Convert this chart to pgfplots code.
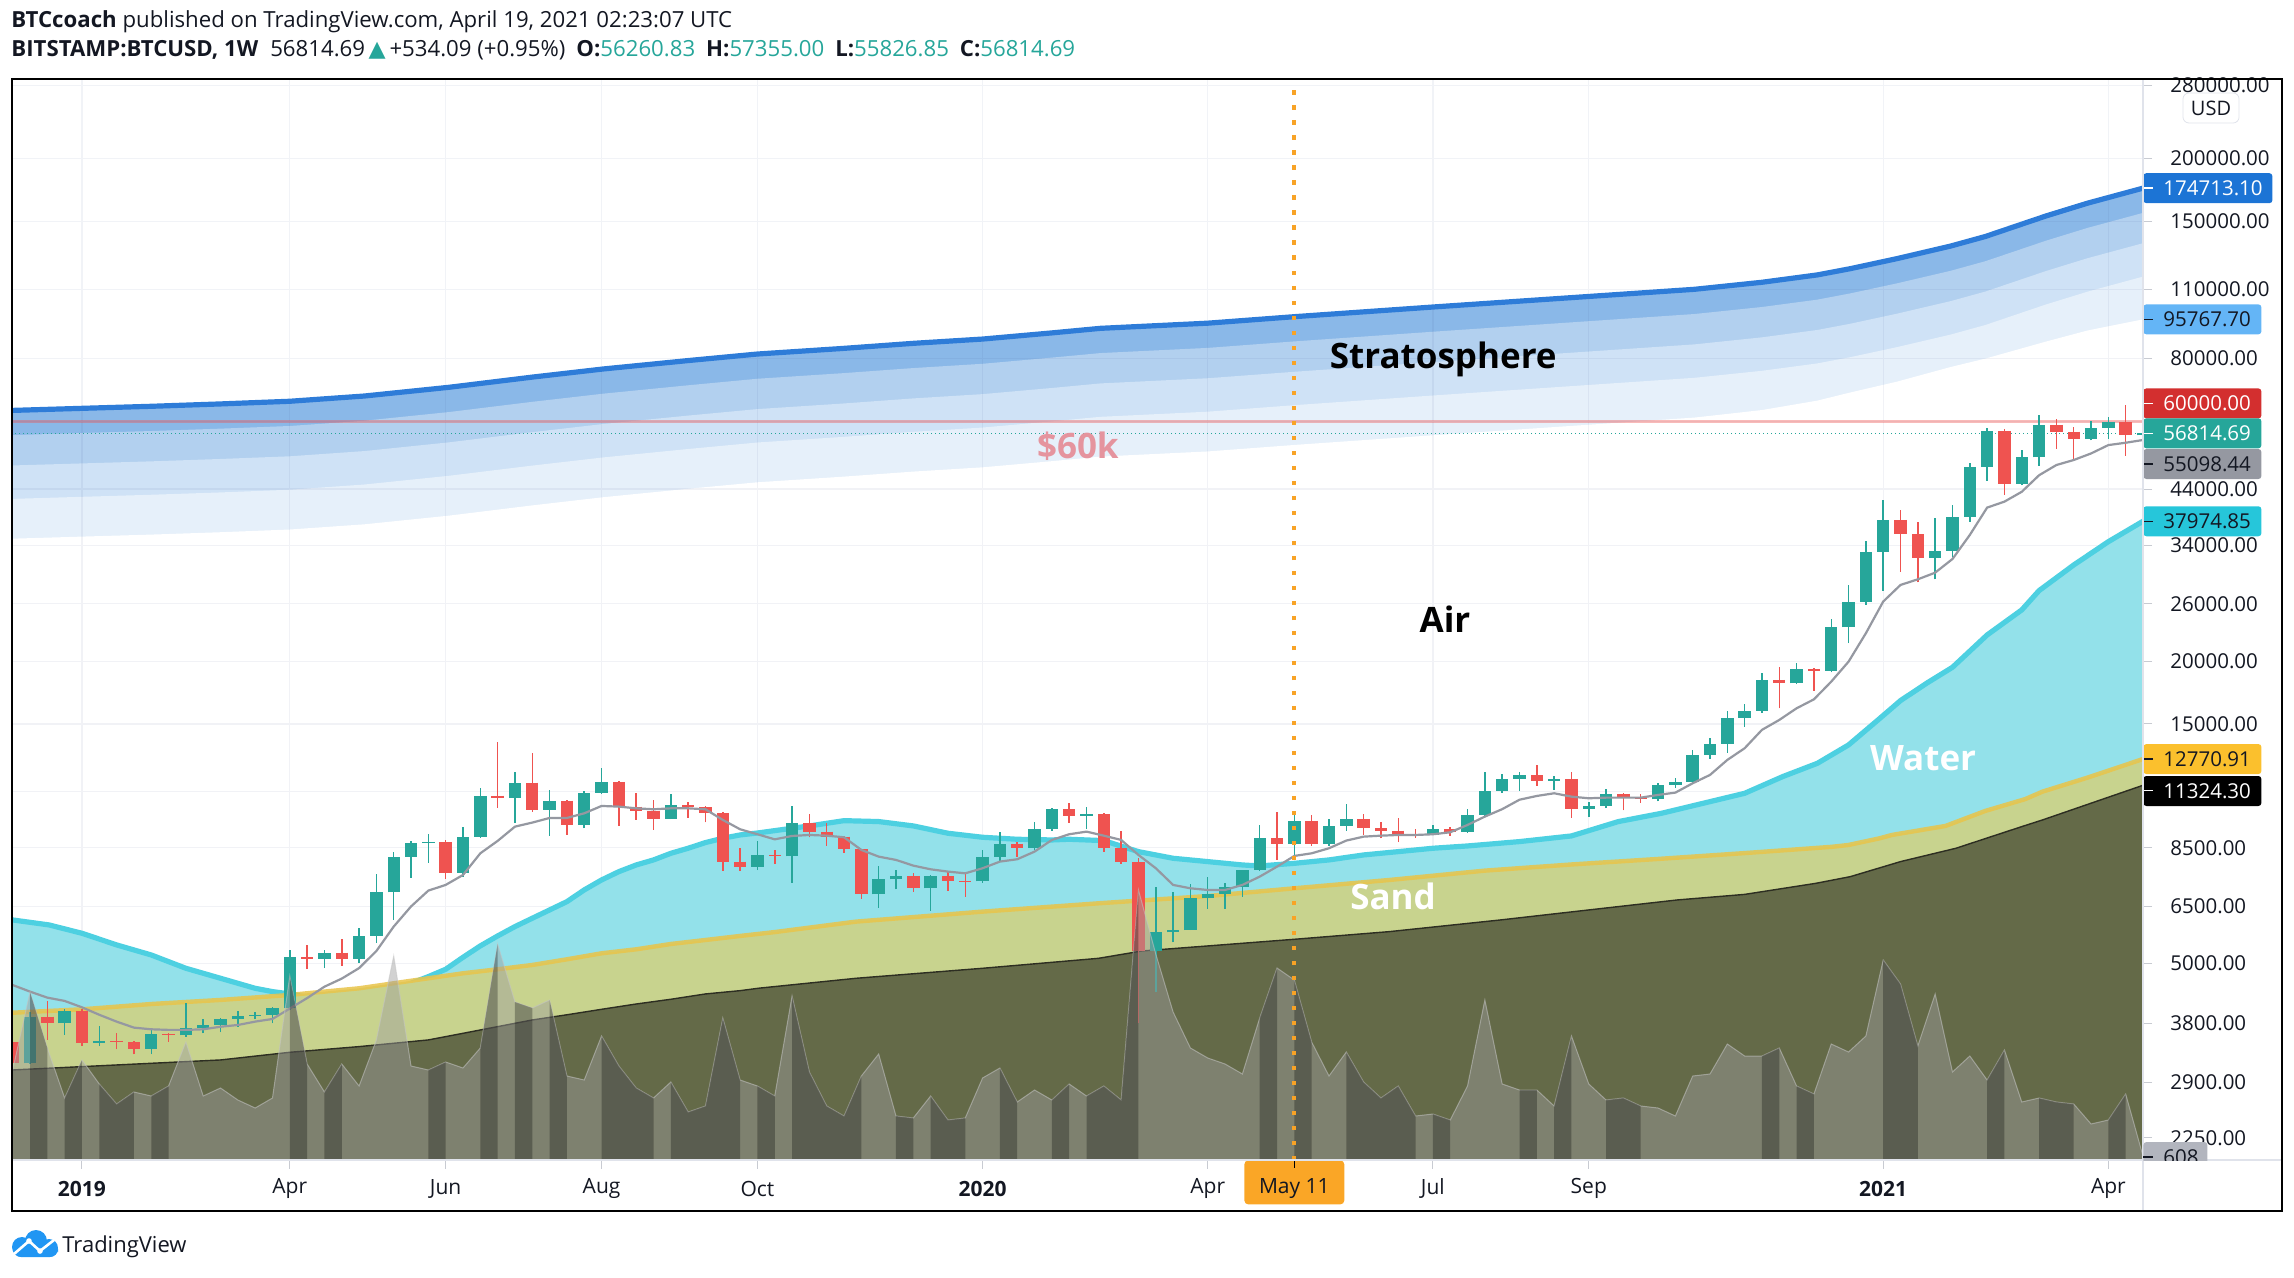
\documentclass[border=0pt]{standalone}
\usepackage{pgfplots}
\usepackage{pgfplotstable}
\pgfplotsset{compat=1.18}
\usepackage{fontspec}
\setmainfont{Open Sans}
\newfontfamily\dejavu{DejaVu Sans}
\definecolor{tvtext}{RGB}{19,23,34}
\definecolor{tvteal}{RGB}{38,166,154}
\definecolor{tvred}{RGB}{239,83,80}
\definecolor{gridc}{RGB}{60,80,140}
\definecolor{tickc}{RGB}{200,203,210}
\definecolor{sepc}{RGB}{224,227,235}
\definecolor{bandA}{RGB}{138,184,232}
\definecolor{bandB}{RGB}{178,208,239}
\definecolor{bandC}{RGB}{207,226,246}
\definecolor{bandD}{RGB}{230,240,250}
\definecolor{blueline}{RGB}{46,124,216}
\definecolor{waterc}{RGB}{147,225,234}
\definecolor{waterl}{RGB}{77,208,225}
\definecolor{sandc}{RGB}{200,211,142}
\definecolor{sandl}{RGB}{232,196,74}
\definecolor{olivec}{RGB}{100,106,72}
\definecolor{olivel}{RGB}{45,46,34}
\definecolor{mac}{RGB}{149,152,161}
\definecolor{volc}{RGB}{158,158,158}
\definecolor{tvorange}{RGB}{248,163,38}
\definecolor{lab60}{RGB}{229,148,158}
\definecolor{lbBlue}{RGB}{28,116,213}
\definecolor{lbLight}{RGB}{100,181,246}
\definecolor{lbRed}{RGB}{211,47,47}
\definecolor{lbGray}{RGB}{149,152,161}
\definecolor{lbCyan}{RGB}{38,198,218}
\definecolor{lbYellow}{RGB}{251,192,45}
\definecolor{lbVol}{RGB}{178,181,190}
\definecolor{tvblue}{RGB}{33,150,243}
\definecolor{mayc}{RGB}{250,166,38}
\newcommand{\plabtxt}[3]{\hbox to #1{\color{#2}\rule[3.4pt]{5pt}{0.6pt}\hspace{5pt}#3\hfil}}
\tikzset{plab/.style={anchor=west, inner sep=0pt, minimum height=15pt, rounded corners=1.5pt, font=\fontsize{10.25}{12}\selectfont}}

% stratosphere band boundaries (week index, price)
\pgfplotstableread{
w s0 s1 s2 s3 s4
-5 62900 56160 48870 41930 34940
-4 63100 56340 49030 42070 35060
0 63700 56880 49490 42470 35390
4 64300 57410 49960 42870 35720
8 65000 58040 50510 43330 36110
12 65800 58750 51130 43870 36560
16.3 67400 60180 52370 44930 37440
21.2 70150 62630 54510 46770 38970
26 73500 65630 57110 49000 40830
30.1 76300 68130 59290 50870 42390
35 79300 70800 61620 52870 44060
39 81700 72950 63480 54470 45390
43.9 83800 74820 65110 55870 46560
48 85800 76610 66670 57200 47670
52 87500 78130 67990 58330 48610
56 90000 80360 69930 60000 50000
58.8 91900 82050 71410 61270 51060
65 94100 84020 73120 62730 52280
70.1 97000 86610 75370 64670 53890
78.3 101500 90630 78870 67670 56390
86.9 106300 94910 82600 70870 59060
93.1 109900 98130 85390 73270 61060
97 113500 101340 88190 75670 63200
100.2 117400 104820 91220 78270 66000
102.1 120800 107860 93860 80530 68500
104.8 126500 112950 98290 84330 72000
107.9 134000 119640 104120 89330 77000
109.9 140000 125000 108780 93330 80000
113.4 153800 137320 119500 102530 86500
115.8 163100 145630 126730 108730 91000
119 174713.10 155990 135750 116480 95767.70
120 178500 159380 138700 119000 97500
}\strat

\pgfplotstableread{
w p
-5 6200
-4 6110
-1.9 5972
0 5748
2 5450
4 5204
6 4896
8 4677
10 4467
11 4400
12 4353
13 4287
14 4235
15 4183
16 4183
17 4235
18 4353
19 4571
20 4713
21 4874
22 5149
23 5425
24 5678
25 5927
26 6158
27 6397
28 6645
29 7011
30 7339
31 7625
32 7861
33 8044
34 8292
35 8486
36 8710
37 8883
38 9020
39 9100
40 9200
42 9400
44 9630
46 9590
48 9400
50 9090
52 8924
54 8843
56 8815
57 8843
59 8788
61 8356
63 8105
65 7983
67 7861
68 7826
70 7921
72 8044
74 8230
76 8356
78 8486
80 8576
83 8749
86 8979
88.7 9588
91.2 9961
94 10507
96 10916
98.2 11785
100.2 12525
102 13625
103.7 15277
105 16694
106.5 18072
108 19449
110 22551
112 25294
113 27634
115 31078
117 34580
119 37974.85
120 39700
}\water

\pgfplotstableread{
w p
-5 3980
-4 3995
0 4057
4 4157
8 4235
12 4333
14 4400
16 4467
18 4571
20 4677
22 4785
24 4874
26 4971
28 5102
30 5244
32 5341
34 5473
36 5574
38 5678
40 5780
44.7 6064
52 6348
58.7 6595
65 6818
70 7064
75.5 7339
81 7660
86 7880
91 8080
96 8300
101 8540
102 8615
103.8 8883
104.5 9019
107.6 9400
109.9 10070
112.2 10630
113.2 11001
115.8 11730
119 12770.91
120 13100
}\sand

\pgfplotstableread{
w p
-5 3060
-4 3073
0 3120
4 3168
8 3217
12 3332
16 3420
20 3526
22 3635
24 3748
26 3864
28 3957
30 4057
32 4157
34 4248
36 4353
38 4419
39.1 4470
44.7 4677
52 4896
58.7 5125
61.2 5300
70 5592
75.5 5792
81.9 6110
87 6397
92.1 6696
96 6869
100.1 7226
102.1 7451
105 7983
108.2 8486
112 9371
113.2 9662
119 11324.30
120 11600
}\olive

\pgfplotstableread{
w p
-4.04 4540
-3 4400
-2 4280
-1 4216
0 4094
1 3957
2 3835
3 3731
4 3702
5 3692
6 3692
7 3702
8 3746
9 3776
10 3835
11 3882
12 4071
13 4271
14 4500
15 4670
16 4900
17 5300
18 5928
19 6500
20 6990
21 7174
22 7510
23 8292
24 8776
25 9370
26 9545
27 9750
28 9750
29 9960
30 10301
31 10270
32 10190
33 10145
34 10190
35 10190
36 10145
37 9662
38 9257
39 9048
40 8840
41 8978
42 9019
43 8990
44 8924
45 8421
46 8167
47 8044
48 7838
49 7707
50 7626
51 7567
52 7745
53 7983
54 8069
55 8356
56 8815
57 9048
58 9158
59 8990
60 8815
61 8230
62 7745
63 7174
64 7064
65 7010
66 7010
67 7174
68 7451
69 7802
70 8193
71 8292
72 8486
73 8790
74 8950
75 8990
76 9019
77 9019
78 9048
79 9130
80 9443
81 9811
82 10150
83 10600
84 10784
85 10918
86 10750
87 10670
88 10701
89 10701
90 10701
91 10835
92 10950
93 11430
94 11875
95 12720
96 13420
97 14600
98 15280
99 16115
100 16790
101 18210
102 19960
103 22730
104 26280
105 28360
106 29100
107 30000
108 31940
109 35660
110 40420
111 41540
112 43460
113 46880
114 49130
115 50270
116 51800
117 53830
118 54410
119 55098.44
}\maline

\pgfplotstableread{
w v
-5 45
-4 45
-3 84
-2 56
-1 31
0 50
1 38
2 28
3 34
4 32
5 37
6 59
7 32
8 36
9 30
10 26
11 31
12 92
13 48
14 34
15 48
16 37
17 60
18 102
19 47
20 45
21 49
22 46
23 56
24 108
25 79
26 76
27 80
28 42
29 40
30 62
31 47
32 36
33 31
34 39
35 24
36 27
37 71
38 40
39 37
40 32
41 82
42 44
43 27
44 22
45 42
46 53
47 22
48 21
49 32
50 20
51 21
52 41
53 46
54 29
55 35
56 30
57 38
58 32
59 37
60 30
61 135
62 103
63 74
64 56
65 51
66 48
67 43
68 71
69 96
70 90
71 59
72 42
73 54
74 39
75 31
76 37
77 22
78 23
79 20
80 37
81 80
82 38
83 35
84 35
85 27
86 62
87 38
88 30
89 31
90 27
91 26
92 22
93 42
94 43
95 58
96 52
97 52
98 56
99 37
100 33
101 58
102 54
103 62
104 100
105 88
106 57
107 83
108 44
109 52
110 40
111 55
112 29
113 31
114 29
115 28
116 18
117 20
118 33
119 2
}\vol

\begin{document}
\begin{tikzpicture}

\begin{axis}[
  at={(6pt,-580pt)}, anchor=south west,
  scale only axis, width=1065.5pt, height=540.5pt,
  xmin=-4.04, xmax=119, ymode=log, ymin=2034, ymax=288100,
  axis line style={draw=none},
  unbounded coords=jump,
  xtick={0,12,21,30,39,52,65,78,87,104,117},
  xticklabels={\textbf{2019},Apr,Jun,Aug,Oct,\textbf{2020},Apr,Jul,Sep,\textbf{2021},Apr},
  ytick={2250,2900,3800,5000,6500,8500,11000,15000,20000,26000,34000,44000,60000,80000,110000,150000,200000,280000},
  yticklabels={2250.00,2900.00,3800.00,5000.00,6500.00,8500.00,,15000.00,20000.00,26000.00,34000.00,44000.00,,80000.00,110000.00,150000.00,200000.00,280000.00},
  xtick pos=lower, ytick pos=upper, yticklabel pos=upper,
  tick align=outside, major tick length=4.5pt,
  tick style={draw=tickc, line width=0.5pt},
  minor y tick num=0, yminorticks=false, xminorticks=false,
  xticklabel style={font=\fontsize{10.5}{12}\selectfont, text=tvtext, anchor=center, yshift=-9.9pt},
  yticklabel style={font=\fontsize{10.25}{12}\selectfont, text=tvtext, anchor=west, inner sep=0pt, xshift=9pt},
]
% ---- stratosphere bands (stacked, each filled down to the bottom)
\addplot[fill=bandA, draw=none] table[x=w,y=s0]{\strat} \closedcycle;
\addplot[fill=bandB, draw=none] table[x=w,y=s1]{\strat} \closedcycle;
\addplot[fill=bandC, draw=none] table[x=w,y=s2]{\strat} \closedcycle;
\addplot[fill=bandD, draw=none] table[x=w,y=s3]{\strat} \closedcycle;
\addplot[fill=white, draw=none] table[x=w,y=s4]{\strat} \closedcycle;
% ---- grid
\addplot[draw=gridc, draw opacity=0.07, line width=0.6pt] coordinates {
(-5,2250)(120,2250)(120,nan) (-5,2900)(120,2900)(120,nan) (-5,3800)(120,3800)(120,nan)
(-5,5000)(120,5000)(120,nan) (-5,6500)(120,6500)(120,nan) (-5,8500)(120,8500)(120,nan)
(-5,11000)(120,11000)(120,nan) (-5,15000)(120,15000)(120,nan) (-5,20000)(120,20000)(120,nan)
(-5,26000)(120,26000)(120,nan) (-5,34000)(120,34000)(120,nan) (-5,44000)(120,44000)(120,nan)
(-5,60000)(120,60000)(120,nan) (-5,80000)(120,80000)(120,nan) (-5,110000)(120,110000)(120,nan)
(-5,150000)(120,150000)(120,nan) (-5,200000)(120,200000)(120,nan) (-5,280000)(120,280000)(120,nan)
(0,1500)(0,300000)(0,nan) (12,1500)(12,300000)(12,nan) (21,1500)(21,300000)(21,nan)
(30,1500)(30,300000)(30,nan) (39,1500)(39,300000)(39,nan) (52,1500)(52,300000)(52,nan)
(65,1500)(65,300000)(65,nan) (78,1500)(78,300000)(78,nan) (87,1500)(87,300000)(87,nan)
(104,1500)(104,300000)(104,nan) (117,1500)(117,300000)
};
\addplot[draw=blueline, line width=2.6pt] table[x=w,y=s0]{\strat};
% ---- water / sand / olive
\addplot[fill=waterc, draw=none] table[x=w,y=p]{\water} \closedcycle;
\addplot[draw=waterl, line width=2.6pt] table[x=w,y=p]{\water};
\addplot[fill=sandc, draw=none] table[x=w,y=p]{\sand} \closedcycle;
\addplot[fill=olivec, draw=none] table[x=w,y=p]{\olive} \closedcycle;
\addplot[draw=sandl, draw opacity=0.85, line width=2.2pt] table[x=w,y=p]{\sand};
\addplot[draw=olivel, line width=0.7pt] table[x=w,y=p]{\olive};
% ---- reference lines
\addplot[draw=tvred, draw opacity=0.4, line width=1.25pt] coordinates {(-5,60000) (120,60000)};
\addplot[draw=tvteal, line width=0.5pt, dash pattern=on 0.5pt off 1.5pt] coordinates {(-5,56814.69) (120,56814.69)};
% ---- candles: wicks
\addplot[draw=tvteal, line width=0.75pt] coordinates {
(-3,3160)(-3,4000)(-3,nan) (-1,3607)(-1,4056)(-1,nan) (1,3428)(1,3759)(1,nan) (4,3302)(4,3692)(4,nan)
(6,3580)(6,4171)(6,nan) (7,3635)(7,3876)(7,nan) (8,3650)(8,3900)(8,nan) (9,3750)(9,4026)(9,nan)
(10,3880)(10,4000)(10,nan) (11,3806)(11,4100)(11,nan) (12,4050)(12,5325)(12,nan) (14,4900)(14,5330)(14,nan)
(16,5024)(16,5890)(16,nan) (17,5508)(17,7543)(17,nan) (18,6110)(18,8342)(18,nan) (19,7417)(19,8790)(19,nan)
(20,7944)(20,9064)(20,nan) (22,7451)(22,9341)(22,nan) (23,8900)(23,11172)(23,nan) (25,9545)(25,12036)(25,nan)
(27,8978)(27,11085)(27,nan) (29,9300)(29,11030)(29,nan) (30,10900)(30,12240)(30,nan) (34,9700)(34,10900)(34,nan)
(39,7680)(39,8776)(39,nan) (41,7249)(41,10301)(41,nan) (46,6466)(46,7826)(46,nan) (47,7032)(47,7700)(47,nan)
(49,6377)(49,7520)(49,nan) (52,7250)(52,8421)(52,nan) (53,7983)(53,9130)(53,nan) (55,8400)(55,9550)(55,nan)
(56,9200)(56,10200)(56,nan) (58,9272)(58,10270)(58,nan) (62,4400)(62,7117)(62,nan) (63,5516)(63,6935)(63,nan)
(64,5830)(64,7206)(64,nan) (65,6426)(65,7451)(65,nan) (66,6426)(66,7250)(66,nan) (67,6800)(67,7700)(67,nan)
(68,7650)(68,9429)(68,nan) (70,8200)(70,9900)(70,nan) (72,8576)(72,9700)(72,nan) (73,9200)(73,10398)(73,nan)
(78,9000)(78,9450)(78,nan) (80,9100)(80,10160)(80,nan) (81,9800)(81,12055)(81,nan) (82,10950)(82,11900)(82,nan)
(83,11035)(83,12036)(83,nan) (85,11100)(85,11800)(85,nan) (87,9800)(87,10500)(87,nan) (88,10200)(88,11135)(88,nan)
(91,10520)(91,11450)(91,nan) (92,11200)(92,11700)(92,nan) (93,11420)(93,13314)(93,nan) (94,12800)(94,14048)(94,nan)
(95,13152)(95,15920)(95,nan) (96,14800)(96,16440)(96,nan) (97,15800)(97,18920)(97,nan) (99,18000)(99,19810)(99,nan)
(101,19000)(101,24310)(101,nan) (102,21715)(102,28360)(102,nan) (103,25900)(103,34700)(103,nan) (104,27630)(104,41860)(104,nan)
(107,29100)(107,38600)(107,nan) (108,32300)(108,40920)(108,nan) (109,37900)(109,49610)(109,nan) (110,45750)(110,58320)(110,nan)
(112,44800)(112,52640)(112,nan) (113,49000)(113,61800)(113,nan) (116,55000)(116,60040)(116,nan) (117,55400)(117,61330)(117,nan)
(119,55826.85)(119,57355)
};
\addplot[draw=tvred, line width=0.75pt] coordinates {
(-4,3150)(-4,3600)(-4,nan) (-2,3526)(-2,4216)(-2,nan) (0,3428)(0,4056)(0,nan) (2,3378)(2,3635)(2,nan)
(3,3302)(3,3510)(3,nan) (5,3499)(5,3640)(5,nan) (13,4880)(13,5440)(13,nan) (15,4950)(15,5600)(15,nan)
(21,7384)(21,8800)(21,nan) (24,10222)(24,13830)(24,nan) (26,10038)(26,13152)(26,nan) (28,9019)(28,10600)(28,nan)
(31,9400)(31,11550)(31,nan) (32,9662)(32,10950)(32,nan) (33,9228)(33,10588)(33,nan) (35,9750)(35,10500)(35,nan)
(36,9550)(36,10300)(36,nan) (37,7660)(37,10000)(37,nan) (38,7660)(38,8486)(38,nan) (40,7900)(40,8400)(40,nan)
(42,8924)(42,9915)(42,nan) (43,8576)(43,9515)(43,nan) (44,8318)(44,8980)(44,nan) (45,6727)(45,8460)(45,nan)
(48,6957)(48,7589)(48,nan) (50,6989)(50,7649)(50,nan) (51,6799)(51,7550)(51,nan) (54,8167)(54,8730)(54,nan)
(57,9545)(57,10460)(57,nan) (59,8356)(59,9991)(59,nan) (60,7900)(60,9186)(60,nan) (61,3817)(61,8100)(61,nan)
(69,8044)(69,10022)(69,nan) (71,8576)(71,9870)(71,nan) (74,9019)(74,9950)(74,nan) (75,8880)(75,9550)(75,nan)
(76,8730)(76,9730)(76,nan) (77,8900)(77,9250)(77,nan) (79,8978)(79,9350)(79,nan) (84,11291)(84,12431)(84,nan)
(86,9765)(86,12036)(86,nan) (89,10100)(89,10950)(89,nan) (90,10450)(90,10900)(90,nan) (98,16115)(98,19510)(98,nan)
(100,17475)(100,19400)(100,nan) (105,30150)(105,39990)(105,nan) (106,28700)(106,37800)(106,nan) (111,42830)(111,58000)(111,nan)
(114,52900)(114,60690)(114,nan) (115,50130)(115,58500)(115,nan) (118,51220)(118,64700)
};
% ---- candles: bodies
\addplot[draw=tvteal, line width=6.2pt] coordinates {
(-3,3168)(-3,3923)(-3,nan) (-1,3806)(-1,4026)(-1,nan) (1,3483)(1,3509)(1,nan) (4,3383)(4,3624)(4,nan)
(6,3602)(6,3720)(6,nan) (7,3720)(7,3776)(7,nan) (8,3776)(8,3882)(8,nan) (9,3882)(9,3936)(9,nan)
(10,3936)(10,3957)(10,nan) (11,3957)(11,4076)(11,nan) (12,4076)(12,5150)(12,nan) (14,5120)(14,5260)(14,nan)
(16,5117)(16,5678)(16,nan) (17,5678)(17,6935)(17,nan) (18,6935)(18,8153)(18,nan) (19,8153)(19,8697)(19,nan)
(20,8697)(20,8740)(20,nan) (22,7589)(22,8950)(22,nan) (23,8950)(23,10784)(23,nan) (25,10700)(25,11466)(25,nan)
(27,10114)(27,10556)(27,nan) (29,9457)(29,10950)(29,nan) (30,10950)(30,11501)(30,nan) (34,9720)(34,10332)(34,nan)
(39,7802)(39,8230)(39,nan) (41,8180)(41,9515)(41,nan) (46,6872)(46,7363)(46,nan) (47,7363)(47,7475)(47,nan)
(49,7064)(49,7475)(49,nan) (52,7290)(52,8167)(52,nan) (53,8167)(53,8657)(53,nan) (55,8499)(55,9272)(55,nan)
(56,9272)(56,10145)(56,nan) (58,9840)(58,9915)(58,nan) (62,5309)(62,5774)(62,nan) (63,5774)(63,5834)(63,nan)
(64,5834)(64,6748)(64,nan) (65,6748)(65,6883)(65,nan) (66,6883)(66,7097)(66,nan) (67,7097)(67,7684)(67,nan)
(68,7684)(68,8883)(68,nan) (70,8670)(70,9617)(70,nan) (72,8670)(72,9400)(72,nan) (73,9400)(73,9705)(73,nan)
(78,9019)(78,9272)(78,nan) (80,9158)(80,9885)(80,nan) (81,9885)(81,11035)(81,nan) (82,11035)(82,11660)(82,nan)
(83,11660)(83,11857)(83,nan) (85,11553)(85,11660)(85,nan) (87,10160)(87,10301)(87,nan) (88,10301)(88,10882)(88,nan)
(91,10620)(91,11342)(91,nan) (92,11342)(92,11500)(92,nan) (93,11500)(93,13012)(93,nan) (94,13012)(94,13688)(94,nan)
(95,13688)(95,15418)(95,nan) (96,15418)(96,15920)(96,nan) (97,15920)(97,18350)(97,nan) (99,18070)(99,19300)(99,nan)
(101,19150)(101,23360)(101,nan) (102,23360)(102,26240)(102,nan) (103,26240)(103,33000)(103,nan) (104,33000)(104,38200)(104,nan)
(107,32150)(107,33140)(107,nan) (108,33140)(108,38790)(108,nan) (109,38790)(109,48630)(109,nan) (110,48630)(110,57430)(110,nan)
(112,45060)(112,50900)(112,nan) (113,50900)(113,59040)(113,nan) (116,55380)(116,58230)(116,nan) (117,58230)(117,59760)(117,nan)
(119,56260.83)(119,56814.69)
};
\addplot[draw=tvred, line width=6.2pt] coordinates {
(-4,3500)(-4,3170)(-4,nan) (-2,3923)(-2,3806)(-2,nan) (0,4026)(0,3483)(0,nan) (2,3509)(2,3493)(2,nan)
(3,3493)(3,3383)(3,nan) (5,3624)(5,3602)(5,nan) (13,5150)(13,5120)(13,nan) (15,5260)(15,5117)(15,nan)
(21,8730)(21,7589)(21,nan) (24,10800)(24,10700)(24,nan) (26,11466)(26,10114)(26,nan) (28,10556)(28,9457)(28,nan)
(31,11501)(31,10270)(31,nan) (32,10270)(32,10083)(32,nan) (33,10083)(33,9720)(33,nan) (35,10332)(35,10250)(35,nan)
(36,10250)(36,9960)(36,nan) (37,9960)(37,7983)(37,nan) (38,7983)(38,7802)(38,nan) (40,8230)(40,8180)(40,nan)
(42,9515)(42,9158)(42,nan) (43,9158)(43,8950)(43,nan) (44,8950)(44,8446)(44,nan) (45,8446)(45,6872)(45,nan)
(48,7475)(48,7064)(48,nan) (50,7475)(50,7318)(50,nan) (51,7318)(51,7290)(51,nan) (54,8657)(54,8499)(54,nan)
(57,10145)(57,9840)(57,nan) (59,9915)(59,8486)(59,nan) (60,8486)(60,7983)(60,nan) (61,7983)(61,5309)(61,nan)
(69,8883)(69,8670)(69,nan) (71,9617)(71,8670)(71,nan) (74,9705)(74,9300)(74,nan) (75,9300)(75,9200)(75,nan)
(76,9200)(76,9019)(76,nan) (77,9060)(77,9019)(77,nan) (79,9272)(79,9158)(79,nan) (84,11857)(84,11553)(84,nan)
(86,11660)(86,10160)(86,nan) (89,10882)(89,10701)(89,nan) (90,10701)(90,10620)(90,nan) (98,18350)(98,18070)(98,nan)
(100,19300)(100,19150)(100,nan) (105,38200)(105,35770)(105,nan) (106,35770)(106,32150)(106,nan) (111,57430)(111,45060)(111,nan)
(114,59040)(114,57260)(114,nan) (115,57260)(115,55380)(115,nan) (118,59760)(118,56260.83)
};
% ---- moving average
\addplot[draw=mac, line width=1.1pt] table[x=w,y=p]{\maline};
% ---- zone labels
\node[font=\fontsize{17.5}{20}\selectfont\bfseries, text=black] at (axis cs:78.6,79540) {Stratosphere};
\node[font=\fontsize{17.5}{20}\selectfont\bfseries, text=black] at (axis cs:78.7,24270) {Air};
\node[font=\fontsize{17.5}{20}\selectfont\bfseries, text=white] at (axis cs:106.3,12836) {Water};
\node[font=\fontsize{17.5}{20}\selectfont\bfseries, text=white] at (axis cs:75.7,6818) {Sand};
\node[font=\fontsize{17.5}{20}\selectfont\bfseries, text=lab60] at (axis cs:57.5,53630) {\$60k};
% ---- anchors for the price-scale labels and the time marker
\coordinate (pA) at (axis cs:119,174713.10);
\coordinate (pB) at (axis cs:119,95767.70);
\coordinate (pC) at (axis cs:119,60000);
\coordinate (pD) at (axis cs:119,56814.69);
\coordinate (pE) at (axis cs:119,55098.44);
\coordinate (pF) at (axis cs:119,37974.85);
\coordinate (pG) at (axis cs:119,12770.91);
\coordinate (pH) at (axis cs:119,11324.30);
\coordinate (mE) at (axis cs:70,2034);
\end{axis}

% ---- volume pane (same frame, own scale)
\begin{axis}[
  at={(6pt,-580pt)}, anchor=south west,
  scale only axis, width=1065.5pt, height=540.5pt,
  xmin=-4.04, xmax=119, ymin=0, ymax=540.5,
  hide axis, unbounded coords=jump,
]
\addplot[fill=volc, fill opacity=0.46, draw=none] table[x=w,y=v]{\vol} \closedcycle;
\addplot[draw=volc!60!white, draw opacity=0.55, line width=0.5pt] table[x=w,y=v]{\vol};
\addplot[fill=black, fill opacity=0.28, draw=none] coordinates {
(-5,0)(-5,45)(-4,45)(-4,0)(-4,nan)
(-3,0)(-3,84)(-2,56)(-2,0)(-2,nan)
(-1,0)(-1,31)(0,50)(0,0)(0,nan)
(1,0)(1,38)(2,28)(3,34)(3,0)(3,nan)
(4,0)(4,32)(5,37)(5,0)(5,nan)
(12,0)(12,92)(13,48)(13,0)(13,nan)
(14,0)(14,34)(15,48)(15,0)(15,nan)
(20,0)(20,45)(21,49)(21,0)(21,nan)
(23,0)(23,56)(24,108)(24,0)(24,nan)
(25,0)(25,79)(26,76)(26,0)(26,nan)
(27,0)(27,80)(28,42)(28,0)(28,nan)
(30,0)(30,62)(31,47)(32,36)(33,31)(33,0)(33,nan)
(34,0)(34,39)(35,24)(36,27)(37,71)(38,40)(38,0)(38,nan)
(39,0)(39,37)(40,32)(40,0)(40,nan)
(41,0)(41,82)(42,44)(43,27)(44,22)(45,42)(45,0)(45,nan)
(47,0)(47,22)(48,21)(48,0)(48,nan)
(49,0)(49,32)(50,20)(51,21)(51,0)(51,nan)
(53,0)(53,46)(54,29)(54,0)(54,nan)
(56,0)(56,30)(57,38)(57,0)(57,nan)
(58,0)(58,32)(59,37)(60,30)(61,135)(61,0)(61,nan)
(68,0)(68,71)(69,96)(69,0)(69,nan)
(70,0)(70,90)(71,59)(71,0)(71,nan)
(73,0)(73,54)(74,39)(75,31)(76,37)(77,22)(77,0)(77,nan)
(78,0)(78,23)(79,20)(79,0)(79,nan)
(83,0)(83,35)(84,35)(84,0)(84,nan)
(85,0)(85,27)(86,62)(86,0)(86,nan)
(88,0)(88,30)(89,31)(90,27)(90,0)(90,nan)
(97,0)(97,52)(98,56)(98,0)(98,nan)
(99,0)(99,37)(100,33)(100,0)(100,nan)
(104,0)(104,100)(105,88)(106,57)(106,0)(106,nan)
(110,0)(110,40)(111,55)(111,0)(111,nan)
(113,0)(113,31)(114,29)(115,28)(115,0)(115,nan)
(117,0)(117,20)(118,33)(118,0)
};
\addplot[draw=tvorange, line width=2pt, dash pattern=on 2.25pt off 5.25pt] coordinates {(70,0) (70,540.5)};
\end{axis}

% ---- price-scale labels
\node[plab, fill=lbBlue] at (pA) {\plabtxt{64.5pt}{white}{174713.10}};
\node[plab, fill=lbLight] at (pB) {\plabtxt{59pt}{tvtext}{95767.70}};
\node[plab, fill=lbRed, yshift=9pt] at (pC) {\plabtxt{59pt}{white}{60000.00}};
\node[plab, fill=tvteal] at (pD) {\plabtxt{59pt}{white}{56814.69}};
\node[plab, fill=lbGray, yshift=-12pt] at (pE) {\plabtxt{59pt}{tvtext}{55098.44}};
\node[plab, fill=lbCyan] at (pF) {\plabtxt{59pt}{tvtext}{37974.85}};
\node[plab, fill=lbYellow] at (pG) {\plabtxt{59pt}{tvtext}{12770.91}};
\node[plab, fill=black, yshift=-2.85pt] at (pH) {\plabtxt{59pt}{white}{11324.30}};
% ---- May 11 marker on time scale
\node[fill=mayc, anchor=north, minimum width=50pt, minimum height=22pt, inner sep=0pt, rounded corners=2pt] at (mE) {};
\node[font=\fontsize{10.5}{12}\selectfont, text=tvtext, yshift=-14.5pt] at (mE) {May 11};
\draw[black, line width=0.6pt] (mE) -- ++(0,-4pt);

\begin{scope}[x=0.5pt,y=-0.5pt]
% ---- frame and separators
\draw[sepc, line width=0.6pt] (2143,79) -- (2143,1211);
\draw[sepc, line width=0.6pt] (12,1160) -- (2282,1160);
\draw[black, line width=1.4pt] (12,79) rectangle (2282,1211);
% volume value label
\begin{scope}
\clip (2143,1100) rectangle (2283,1160);
\node[plab, fill=lbVol] at (2143,1157) {\plabtxt{32pt}{tvtext}{608}};
\end{scope}
\node[draw=sepc, fill=white, rounded corners=3pt, inner xsep=4pt, minimum height=15pt, font=\fontsize{10}{12}\selectfont, text=tvtext] at (2211,108) {USD};
% ---- header
\node[anchor=base west, inner sep=0pt, font=\fontsize{11.1}{13}\selectfont, text=tvtext] at (11,28) {\textbf{BTCcoach} published on TradingView.com, April 19, 2021 02:23:07 UTC};
\node[anchor=base west, inner sep=0pt, font=\fontsize{11.1}{13}\selectfont, text=tvtext] at (11,57) {\textbf{BITSTAMP:BTCUSD, 1W}\hspace{6pt}56814.69\,{\dejavu\color{tvteal}▲}\,+534.09 (+0.95\%)\hspace{5.5pt}\textbf{O:}\textcolor{tvteal}{56260.83}\hspace{5.5pt}\textbf{H:}\textcolor{tvteal}{57355.00}\hspace{5.5pt}\textbf{L:}\textcolor{tvteal}{55826.85}\hspace{5.5pt}\textbf{C:}\textcolor{tvteal}{56814.69}};
% ---- footer logo and name
\fill[tvblue] (22,1247) circle[radius=10];
\fill[tvblue] (36,1241) circle[radius=11];
\fill[tvblue] (49,1248) circle[radius=9];
\fill[tvblue, rounded corners=4pt] (13,1244) rectangle (58,1257);
\draw[white, line width=1.3pt, line join=round] (14,1254) -- (29,1241) -- (40,1251) -- (54,1240);
\fill[white] (29,1241) circle[radius=2.8];
\fill[white] (40,1251) circle[radius=2.8];
\node[anchor=base west, inner sep=0pt, font=\fontsize{11}{13}\selectfont, text=tvtext] at (62,1252) {TradingView};
\end{scope}

\pgfresetboundingbox
\path[use as bounding box] (0pt,0pt) rectangle (1147pt,-639pt);
\end{tikzpicture}
\end{document}
